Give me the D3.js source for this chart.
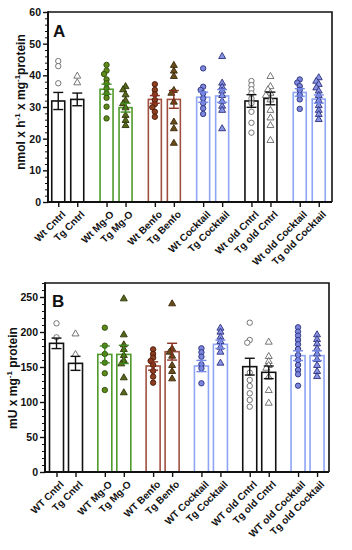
<!DOCTYPE html>
<html><head><meta charset="utf-8">
<script src="https://cdn.jsdelivr.net/npm/d3@7"></script>
<style>
html,body{margin:0;padding:0;background:#fff;}
svg{display:block;font-family:"Liberation Sans",Arial,sans-serif;}
</style></head>
<body>
<svg id="chart" width="352" height="550"></svg>
<script>
// ---------- DATA ----------
const groups = ["Cntrl","Mg-O","Benfo","Cocktail","old Cntrl","old Cocktail"];
const genotypes = ["Wt","Tg"];
const labelsA = ["Wt Cntrl","Tg Cntrl","Wt Mg-O","Tg Mg-O","Wt Benfo","Tg Benfo","Wt Cocktail","Tg Cocktail","Wt old Cntrl","Tg old Cntrl","Wt old Cocktail","Tg old Cocktail"];
const labelsB = ["WT Cntrl","Tg Cntrl","WT Mg-O","Tg Mg-O","WT Benfo","Tg Benfo","WT Cocktail","Tg Cocktail","WT old Cntrl","Tg old Cntrl","WT old Cocktail","Tg old Cocktail"];

const meansA = [31.9, 32.4, 35.6, 29.8, 32.4, 32.4, 33.1, 33.5, 31.9, 32.7, 34.6, 32.5];
const semA   = [2.7, 2.0, 1.6, 1.4, 1.2, 2.8, 1.6, 2.0, 2.0, 2.0, 1.2, 1.3];
const pointsA = [
  [44.5, 42.9, 37.5],
  [39.9, 37.8],
  [43.3, 41.5, 40.4, 38.7, 37.5, 35.9, 34.3, 32.9, 30.1, 26.4],
  [36.6, 35.6, 34.0, 32.2, 31.2, 29.9, 27.5, 25.9, 24.3],
  [37.2, 35.4, 34.0, 32.2, 30.9, 29.9, 28.5, 26.9],
  [43.3, 41.5, 39.8, 35.4, 34.5, 31.7, 25.4, 23.3, 18.7],
  [42.2, 36.4, 35.4, 34.3, 32.7, 31.2, 29.6, 27.8],
  [46.1, 37.7, 36.4, 35.2, 33.8, 32.0, 30.4, 29.1, 23.3],
  [38.2, 36.9, 35.6, 34.3, 32.7, 31.2, 28.5, 25.0, 21.9],
  [39.8, 36.6, 35.6, 34.5, 33.8, 32.4, 29.1, 26.7, 24.3, 19.6],
  [38.7, 37.7, 36.6, 35.4, 33.8, 32.4, 29.4],
  [39.4, 38.3, 37.3, 36.2, 35.2, 33.8, 32.2, 30.6, 29.1, 27.8, 26.2]
];
const ticksA = [0,10,20,30,40,50,60];

const meansB = [183.8, 155.2, 168.0, 168.0, 151.4, 171.9, 151.4, 182.4, 150.5, 142.4, 166.2, 166.2];
const semB   = [7.5, 10, 12, 13, 6, 12, 8, 6, 12, 9, 7, 7];
const pointsB = [
  [212.4, 192.4],
  [198.0, 168.6],
  [206.2, 180.5, 168.6, 156.2, 141.0, 117.1],
  [248.1, 196.7, 182.4, 175.7, 167.1, 160.0, 155.2, 135.3, 113.9],
  [175.2, 168.6, 163.3, 158.6, 152.9, 144.3, 136.2, 127.6],
  [241.0, 176.7, 171.9, 166.2, 152.9, 144.3, 133.8],
  [176.7, 171.0, 164.7, 153.8, 148.1, 126.7],
  [206.2, 200.5, 193.3, 187.1, 179.0, 171.9, 156.2],
  [213.3, 188.6, 184.7, 141.9, 131.4, 122.9, 112.4, 102.9, 93.3],
  [186.2, 165.7, 158.6, 152.9, 149.0, 136.2, 117.1, 99.0],
  [206.7, 200.5, 194.8, 188.6, 182.4, 175.7, 167.1, 160.0, 152.9, 145.7, 139.6, 123.3],
  [196.7, 190.0, 183.8, 176.7, 169.5, 161.4, 152.9, 144.3, 137.1]
];
const ticksB = [0,50,100,150,200,250];

// ---------- STYLES ----------
const style = {
  "Cntrl":        {bar:"#111", err:"#111", wt:{fill:"#fff", stroke:"#666"}, tg:{fill:"#fff", stroke:"#666"}},
  "Mg-O":         {bar:"#4f9a2a", err:"#3f8a1f", wt:{fill:"#5e8a1c", stroke:"#2c4a08"}, tg:{fill:"#56661a", stroke:"#2c3608"}},
  "Benfo":        {bar:"#a05040", err:"#8a3020", wt:{fill:"#8c3e20", stroke:"#4a1808"}, tg:{fill:"#6a4c1c", stroke:"#3a2808"}},
  "Cocktail":     {bar:"#8ea4f4", err:"#7488e8", wt:{fill:"#7b86dc", stroke:"#2a307a"}, tg:{fill:"#8a94e6", stroke:"#2a307a"}},
  "old Cntrl":    {bar:"#111", err:"#111", wt:{fill:"#fff", stroke:"#666"}, tg:{fill:"#fff", stroke:"#666"}},
  "old Cocktail": {bar:"#8ea4f4", err:"#7488e8", wt:{fill:"#7b86dc", stroke:"#2a307a"}, tg:{fill:"#8a94e6", stroke:"#2a307a"}}
};

const svg = d3.select("#chart");

function panel(cfg){
  const g = svg.append("g");
  const {left,right,top,bottom} = cfg;
  const y = d3.scaleLinear().domain([0, cfg.ymax]).range([bottom, top]);
  const xg = d3.scaleBand().domain(groups).range(cfg.xrange).padding(0);
  const xs = d3.scalePoint().domain(genotypes).range([-9.5, 9.5]);
  const xc = i => xg(groups[Math.floor(i/2)]) + xg.bandwidth()/2 + xs(genotypes[i%2]);
  const xLab = d3.scaleOrdinal().domain(cfg.labels).range(cfg.labels.map((d,i)=>xc(i)));
  const bw = cfg.barW;

  g.append("path").attr("d",`M${left},${top}H${right}V${bottom}`)
    .attr("fill","none").attr("stroke","#111").attr("stroke-width",1.6);

  cfg.means.forEach((m,i)=>{
    const st = style[groups[Math.floor(i/2)]];
    g.append("rect").attr("x", xc(i)-bw/2).attr("y", y(m))
      .attr("width", bw).attr("height", bottom - y(m))
      .attr("fill","#fff").attr("stroke", st.bar).attr("stroke-width",1.6);
  });

  cfg.points.forEach((pts,i)=>{
    const st = style[groups[Math.floor(i/2)]];
    const ms = i%2===0 ? st.wt : st.tg;
    const placed = [];
    const d = 3.6;
    pts.forEach(v=>{
      const py = y(v);
      let ox = 0;
      for (const o of [0,-2.5,2.5,-4.5,4.5]){
        if (placed.every(p => Math.hypot(p[0]-o, p[1]-py) >= d)) { ox = o; break; }
      }
      placed.push([ox, py]);
      const px = xc(i)+ox;
      if (i%2===0){
        g.append("circle").attr("cx",px).attr("cy",py).attr("r",2.7)
          .attr("fill",ms.fill).attr("stroke",ms.stroke).attr("stroke-width",0.9);
      } else {
        g.append("path").attr("d", d3.symbol(d3.symbolTriangle, 21)())
          .attr("transform",`translate(${px},${py+0.5})`)
          .attr("fill",ms.fill).attr("stroke",ms.stroke).attr("stroke-width",0.9);
      }
    });
  });

  cfg.means.forEach((m,i)=>{
    const st = style[groups[Math.floor(i/2)]];
    const s = cfg.sem[i], cx = xc(i);
    const e = g.append("g").attr("stroke", st.err).attr("stroke-width",1.4);
    e.append("line").attr("x1",cx).attr("x2",cx).attr("y1",y(m-s)).attr("y2",y(m+s));
    e.append("line").attr("x1",cx-5).attr("x2",cx+5).attr("y1",y(m-s)).attr("y2",y(m-s));
    e.append("line").attr("x1",cx-5).attr("x2",cx+5).attr("y1",y(m+s)).attr("y2",y(m+s));
  });

  const ya = g.append("g").attr("transform",`translate(${left},0)`)
    .call(d3.axisLeft(y).tickValues(cfg.ticks).tickSize(5).tickPadding(2));
  ya.select(".domain").remove();
  ya.selectAll(".tick line").attr("stroke","#111").attr("stroke-width",1.4);
  ya.selectAll(".tick text").attr("font-size",10.5).attr("font-weight","bold").attr("fill","#111");
  const minor = d3.range(0, cfg.ymax+0.001, cfg.minorStep).filter(v=>!cfg.ticks.includes(v));
  const ym = g.append("g").attr("transform",`translate(${left},0)`)
    .call(d3.axisLeft(y).tickValues(minor).tickSize(3).tickFormat(""));
  ym.select(".domain").remove();
  ym.selectAll(".tick line").attr("stroke","#111").attr("stroke-width",1);
  g.append("line").attr("x1",left).attr("x2",left).attr("y1",top-0.8).attr("y2",bottom+1)
    .attr("stroke","#111").attr("stroke-width",2);

  const xa = g.append("g").attr("transform",`translate(0,${bottom})`)
    .call(d3.axisBottom(xLab).tickSize(5).tickFormat(""));
  xa.select(".domain").remove();
  xa.selectAll(".tick line").attr("stroke","#111").attr("stroke-width",1.4);
  g.append("line").attr("x1",left).attr("x2",right).attr("y1",bottom).attr("y2",bottom)
    .attr("stroke","#111").attr("stroke-width",2);
  g.selectAll(".xl").data(cfg.labels).join("text").attr("class","xl")
    .attr("transform",(d,i)=>`translate(${xc(i)+3},${bottom+8}) rotate(-45)`)
    .attr("text-anchor","end").attr("dy","0.7em")
    .attr("font-size",10).attr("font-weight","bold").attr("fill","#111")
    .text(d=>d);

  g.append("text").attr("x",cfg.letterX).attr("y",cfg.letterY)
    .attr("font-size",17).attr("font-weight","bold").attr("fill","#111").text(cfg.letter);

  const t = g.append("text").attr("transform",`translate(${cfg.titleX},${cfg.titleY}) rotate(-90)`)
    .attr("text-anchor","middle").attr("font-size",12).attr("font-weight","bold").attr("fill","#111");
  cfg.title.forEach(p=>{
    const ts = t.append("tspan").text(p.t);
    if (p.sup) ts.attr("font-size",8).attr("dy",-5);
    else if (p.after) ts.attr("dy",5);
  });
}

panel({
  left:48, right:332, top:12, bottom:202, ymax:60, xrange:[43.6,333.4], barW:13,
  means:meansA, sem:semA, points:pointsA, ticks:ticksA, minorStep:2, labels:labelsA,
  letter:"A", letterX:53, letterY:37, titleX:25, titleY:102,
  title:[{t:"nmol x h"},{t:"-1",sup:true},{t:" x mg",after:true},{t:"-1",sup:true},{t:"protein",after:true}]
});
panel({
  left:45, right:329, top:283, bottom:472, ymax:270, xrange:[41.85,331.7], barW:14,
  means:meansB, sem:semB, points:pointsB, ticks:ticksB, minorStep:10, labels:labelsB,
  letter:"B", letterX:52, letterY:307, titleX:17, titleY:378,
  title:[{t:"mU x mg"},{t:"-1",sup:true},{t:" protein",after:true}]
});
</script>
</body></html>
